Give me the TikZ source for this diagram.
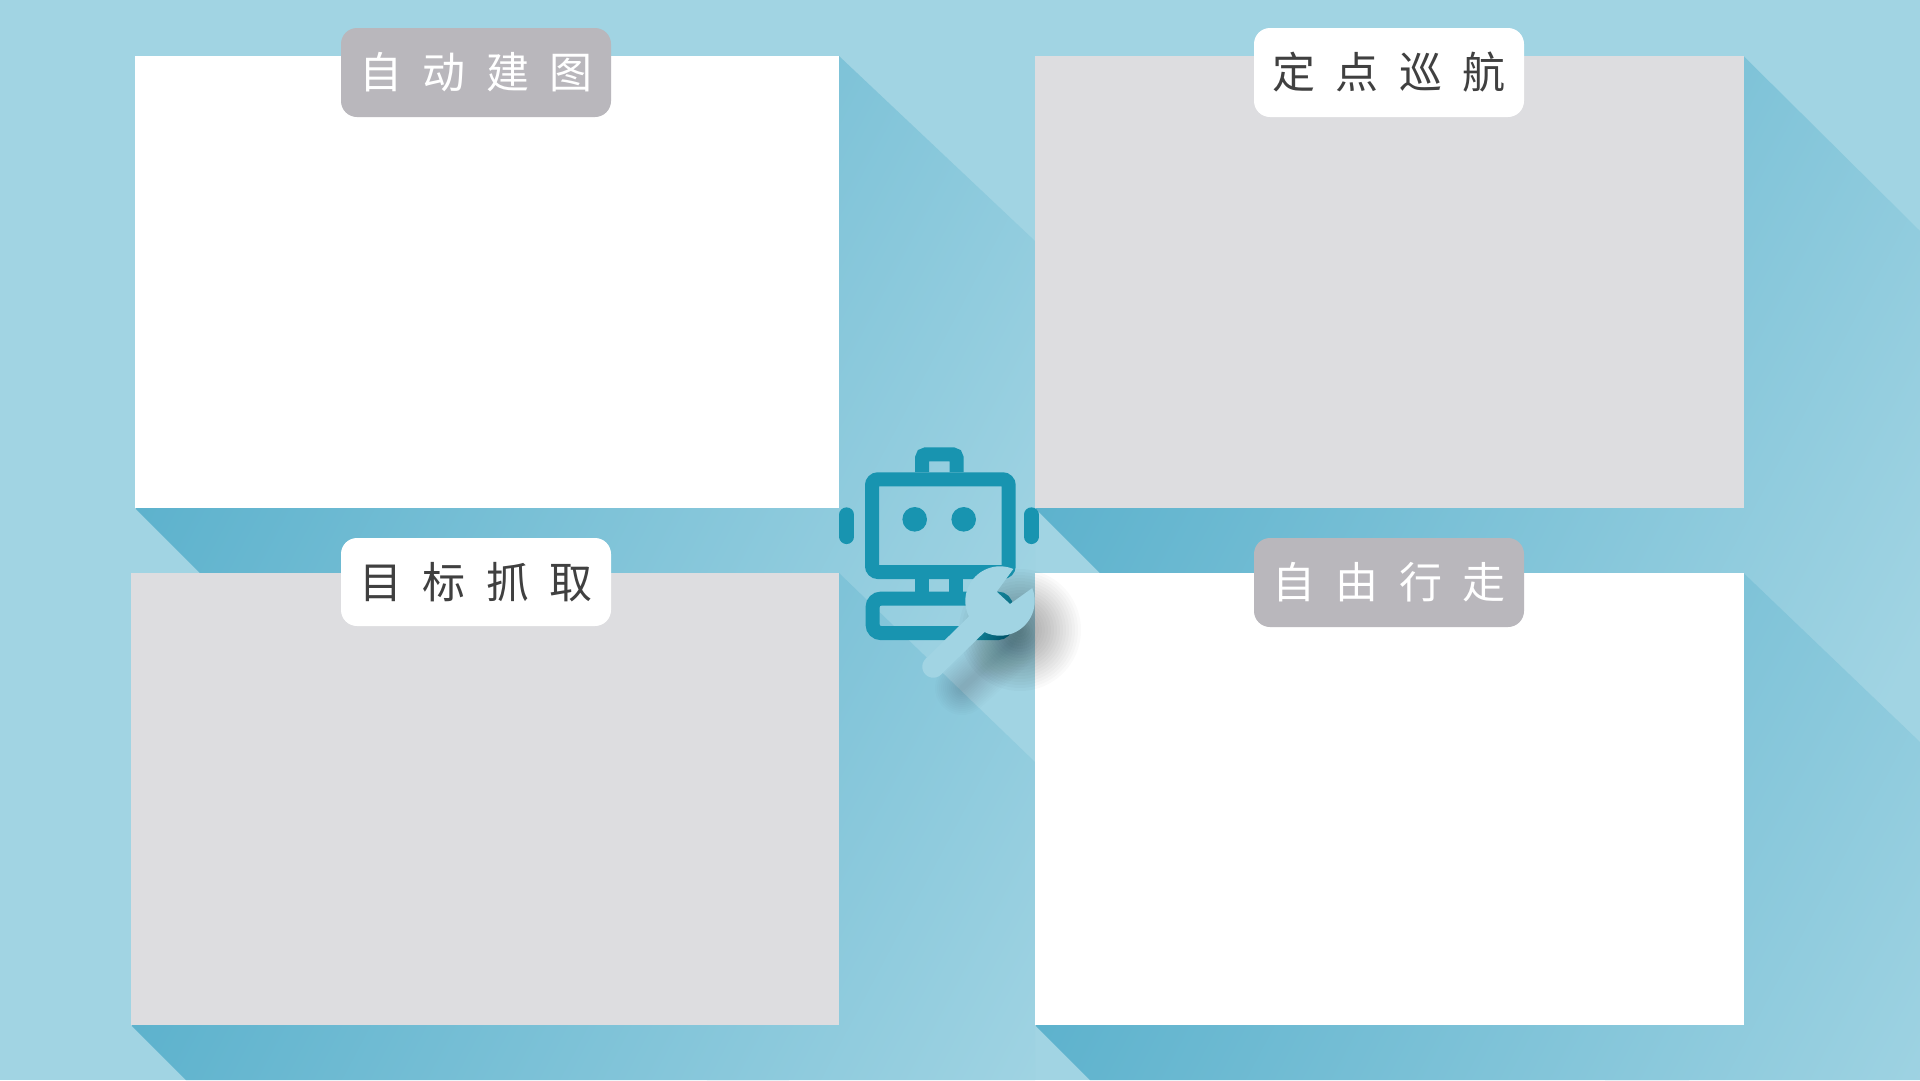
\documentclass[tikz,border=0pt]{standalone}
\usepackage{fontspec}
\newfontfamily\cjk{Noto Sans CJK SC}
\definecolor{bgc}{HTML}{A1D4E3}
\definecolor{shc}{HTML}{5DB2CD}
\definecolor{greyc}{HTML}{DDDDE0}
\definecolor{labelc}{HTML}{B9B7BC}
\definecolor{inkc}{HTML}{404040}
\definecolor{robotc}{HTML}{1894B0}
\pgfdeclarehorizontalshading{longshade}{3000pt}{color(0pt)=(shc); color(846pt)=(bgc)}
\newcommand{\sparse}[4]{#1\hspace{20.5pt}#2\hspace{20.5pt}#3\hspace{20.5pt}#4}
\newcommand{\wrenchpath}{plot[domain=67.4:206.5,samples=30,variable=\t] ({1000+34.7*cos(\t)},{601-34.7*sin(\t)})
 -- plot[domain=135:315,samples=20,variable=\t] ({933.3+11*cos(\t)},{666.7-11*sin(\t)})
 -- plot[domain=243.5:381.8,samples=30,variable=\t] ({1000+34.7*cos(\t)},{601-34.7*sin(\t)})
 -- (1010,604) -- (996.7,591.7) -- cycle}
\tikzset{
  x=1pt,y=-1pt,
  card/.style={fill=#1,draw=none},
  tag/.style={rounded corners=16pt,minimum width=270pt,minimum height=89pt,inner sep=0pt,font=\cjk\fontsize{43pt}{43pt}\selectfont},
  darktag/.style={tag,fill=labelc,text=white},
  lighttag/.style={tag,fill=white,text=inkc},
  shadebox/.style={rotate=-28,anchor=west,inner sep=0pt,outer sep=0pt},
  robotline/.style={draw=robotc,line width=14pt,fill=none},
}
\begin{document}
\begin{tikzpicture}
\useasboundingbox (0,0) rectangle (1920,1080);
\fill[bgc] (0,0) rectangle (1920,1080);
% long shadows
\begin{scope}
 \clip (135,508) -- (839,508) -- (839,56) -- (1035,241) -- (1035,1080) -- (707,1080) -- cycle;
 \node[shadebox] (shA) at (135,508) {\pgfuseshading{longshade}};
\end{scope}
\begin{scope}
 \clip (1035,508) -- (1743.5,508) -- (1743.5,56) -- (1920,231) -- (1920,1080) -- (1605,1080) -- cycle;
 \node[shadebox] (shB) at (1035,508) {\pgfuseshading{longshade}};
\end{scope}
\begin{scope}
 \clip (131,1025) -- (839,1025) -- (839,573) -- (1035,762) -- (1035,1080) -- (186,1080) -- cycle;
 \node[shadebox] (shC) at (131,1025) {\pgfuseshading{longshade}};
\end{scope}
\begin{scope}
 \clip (1035,1025) -- (1743.5,1025) -- (1743.5,573) -- (1920,742) -- (1920,1080) -- (1090,1080) -- cycle;
 \node[shadebox] (shD) at (1035,1025) {\pgfuseshading{longshade}};
\end{scope}
% cards
\fill[card=white] (135,56) rectangle (839,508);
\fill[card=greyc] (1035,56) rectangle (1743.5,508);
\fill[card=greyc] (131,573) rectangle (839,1025);
\fill[card=white] (1035,573) rectangle (1743.5,1025);
% tags
\node[darktag] (t1) at (476,72.5) {\sparse{自}{动}{建}{图}};
\node[lighttag] (t2) at (1389,72.5) {\sparse{定}{点}{巡}{航}};
\node[lighttag,minimum height=88pt] (t3) at (476,582) {\sparse{目}{标}{抓}{取}};
\node[darktag] (t4) at (1389,582.5) {\sparse{自}{由}{行}{走}};
% robot
\draw[robotline,rounded corners=6pt] (872,479.3) rectangle (1008.7,572);
\draw[robotline,rounded corners=4pt] (922,472) -- (922,454.3) -- (956.7,454.3) -- (956.7,472);
\fill[robotc] (914.7,519.3) circle[radius=12.3pt];
\fill[robotc] (963.7,519.3) circle[radius=12.3pt];
\draw[robotc,line width=14.7pt,line cap=round] (846.7,514.7) -- (846.7,536.7);
\draw[robotc,line width=14.7pt,line cap=round] (1031.3,514.7) -- (1031.3,536.7);
\draw[robotc,line width=14pt] (922,578) -- (922,593);
\draw[robotc,line width=14pt] (956.3,578) -- (956.3,593);
\draw[robotc,line width=14pt] (990,578) -- (990,593);
\draw[robotline,rounded corners=8pt] (872.7,598.7) rectangle (1006,633);
% wrench shadow: soft stacked layers
\foreach \r in {4,7,...,61}{
 \fill[black,opacity=0.019] (1020,630) circle[radius=\r pt];
}
\foreach \w in {6,10,...,54}{
 \draw[black,opacity=0.012,line width=\w pt,line cap=round] (1010,645) -- (962,688);
}
% wrench
\fill[bgc] \wrenchpath;
\end{tikzpicture}
\end{document}
